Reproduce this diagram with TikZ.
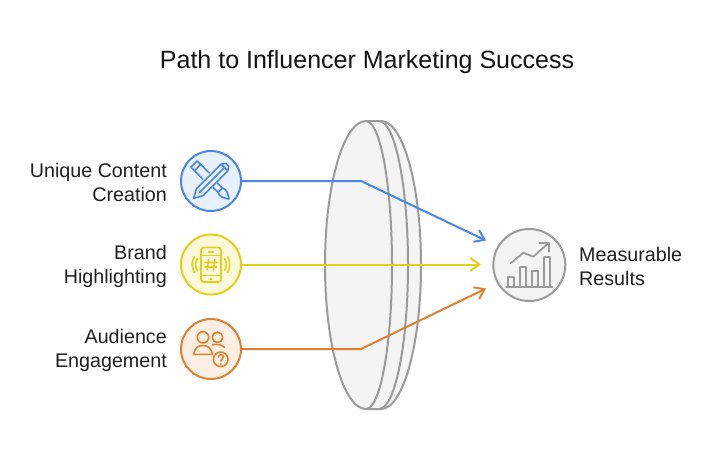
\documentclass[tikz,border=0pt]{standalone}
\usepackage{fontspec}
\setmainfont{Liberation Sans}
\usetikzlibrary{arrows.meta}
\definecolor{cblue}{HTML}{4A86E8}
\definecolor{fblue}{HTML}{E9F1FE}
\definecolor{cyel}{HTML}{E5CE1B}
\definecolor{fyel}{HTML}{FFF9DC}
\definecolor{cora}{HTML}{E0812F}
\definecolor{fora}{HTML}{FDEFE3}
\definecolor{cgry}{HTML}{9B9B9B}
\definecolor{fgry}{HTML}{F4F4F4}
\tikzset{
 badge/.style={circle,draw=#1,line width=2pt,minimum size=60pt,inner sep=0pt},
 lensline/.style={draw=cgry,line width=2pt,line join=round},
 label/.style={font=\fontsize{19.7}{24}\selectfont,align=right,anchor=east,inner sep=0pt,text=black!88},
 rlabel/.style={font=\fontsize{19.7}{24}\selectfont,align=left,anchor=west,inner sep=0pt,text=black!88},
 conn/.style={line width=2pt,draw=#1,line join=miter},
 tip/.style={-{Straight Barb[length=9pt,width=13pt,line width=2pt]}},
 ico/.style={draw=#1,line width=1.6pt,line join=round,line cap=round},
}
\begin{document}
\begin{tikzpicture}[x=1pt,y=-1pt]
\useasboundingbox (0,0) rectangle (722,458);
% lens
\path[fill=fgry] (366,121) .. controls (343.4,121) and (325,185.5) .. (325,265) .. controls (325,344.5) and (343.4,409) .. (366,409) -- (381,409) .. controls (403.1,409) and (421,344.5) .. (421,265) .. controls (421,185.5) and (403.1,121) .. (381,121) -- cycle;
\draw[lensline] (366,121) .. controls (343.4,121) and (325,185.5) .. (325,265) .. controls (325,344.5) and (343.4,409) .. (366,409);
\draw[lensline] (366,121) .. controls (380.4,121) and (392,185.5) .. (392,265) .. controls (392,344.5) and (380.4,409) .. (366,409);
\draw[lensline] (379,121) .. controls (395,121) and (408,185.5) .. (408,265) .. controls (408,344.5) and (395,409) .. (379,409);
\draw[lensline] (366,121) -- (381,121) .. controls (403.1,121) and (421,185.5) .. (421,265) .. controls (421,344.5) and (403.1,409) .. (381,409) -- (366,409);
% title
\node[font=\fontsize{25}{28}\selectfont,text=black!92] (title) at (367,62) {Path to Influencer Marketing Success};
% badges
\node[badge=cblue,fill=fblue] (a1) at (211,181) {};
\node[badge=cyel,fill=fyel] (a2) at (211,264.5) {};
\node[badge=cora,fill=fora] (a3) at (211,349) {};
\node[badge=cgry,fill=fgry,minimum size=72pt] (res) at (529.3,265) {};
% labels
\node[label] (l1) at (167,182) {Unique Content\\Creation};
\node[label] (l2) at (167,266.5) {Brand\\Highlighting};
\node[label] (l3) at (167,350.5) {Audience\\Engagement};
\node[rlabel] (l4) at (579,266) {Measurable\\Results};
% connectors
\coordinate (b1) at (361,181);
\coordinate (b3) at (361,349);
\coordinate (t1) at (486,240.5);
\coordinate (t2) at (481,264.5);
\coordinate (t3) at (486,288.5);
\draw[conn=cblue,tip] (a1.east) -- (b1) -- (t1);
\draw[conn=cyel,tip] (a2.east) -- (t2);
\draw[conn=cora,tip] (a3.east) -- (b3) -- (t3);
% icon 1: pencil and brush
\begin{scope}[shift={(211,181)},rotate=-45]
 \draw[ico=cblue] (-7,-4.5) -- (-24,-4.5) -- (-24,4.5) -- (-7,4.5) (-19,-4.5) -- (-19,4.5);
 \draw[ico=cblue] (6,-3) -- (13,-3) (6,3) -- (13,3) (13,-3.5) -- (13,3.5);
 \draw[ico=cblue] (13,-3) .. controls (17,-5.5) and (21,-3) .. (25.5,0) .. controls (21,3) and (17,5.5) .. (13,3);
\end{scope}
\begin{scope}[shift={(211,181)},rotate=45]
 \draw[ico=cblue,fill=fblue] (-24.5,0) -- (-16,-4.7) -- (19,-4.7) -- (23,-2) -- (23,2) -- (19,4.7) -- (-16,4.7) -- cycle;
 \draw[ico=cblue] (-16,0) -- (19,0) (19,-4.7) -- (19,4.7);
\end{scope}
% icon 2: phone
\draw[ico=cyel,rounded corners=2.5pt] (201,247.5) rectangle (221,282);
\draw[ico=cyel] (201,255.5) -- (221,255.5) (201,275.5) -- (221,275.5) (208.5,251.7) -- (213.5,251.7);
\fill[cyel] (211,279) circle (1.3pt);
\draw[ico=cyel] (208.6,259.5) -- (207,270) (215,259.5) -- (213.4,270) (205,262.5) -- (217,262.5) (204.8,267) -- (216.8,267);
\draw[ico=cyel] (197.5,258.5) .. controls (195,262) and (195,267) .. (197.5,270.5);
\draw[ico=cyel] (194.5,256.5) .. controls (191.5,261) and (191.5,268) .. (194.5,272.5);
\draw[ico=cyel] (224.5,258.5) .. controls (227,262) and (227,267) .. (224.5,270.5);
\draw[ico=cyel] (227.5,256.5) .. controls (230.5,261) and (230.5,268) .. (227.5,272.5);
% icon 3: people
\draw[ico=cora] (203,337.3) circle (5.7pt);
\draw[ico=cora] (217.5,337.3) circle (5.2pt);
\draw[ico=cora] (193.5,354.3) .. controls (195,348) and (198,345.5) .. (203,345.5) .. controls (208,345.5) and (211,348) .. (212.7,354.3) -- cycle;
\draw[ico=cora] (212.5,344.8) .. controls (217,343.5) and (223,345) .. (224.5,347.5);
\draw[ico=cora,fill=fora] (220.7,359.3) circle (7.3pt);
\draw[ico=cora] (218.3,357.2) .. controls (218.6,354) and (223.4,354) .. (223.3,357.2) .. controls (223.2,359) and (220.8,359) .. (220.8,361);
\fill[cora] (220.8,363.8) circle (1.1pt);
% icon 4: chart
\draw[ico=cgry,line width=1.8pt] (506,286.7) -- (552.5,286.7);
\draw[ico=cgry,line width=1.8pt,line cap=butt] (508,286.7) -- (508,276.7) -- (514,276.7) -- (514,286.7);
\draw[ico=cgry,line width=1.8pt,line cap=butt] (520,286.7) -- (520,266.7) -- (526,266.7) -- (526,286.7);
\draw[ico=cgry,line width=1.8pt,line cap=butt] (532,286.7) -- (532,270.7) -- (538,270.7) -- (538,286.7);
\draw[ico=cgry,line width=1.8pt,line cap=butt] (544,286.7) -- (544,256.7) -- (550.3,256.7) -- (550.3,286.7);
\draw[ico=cgry,line width=1.8pt] (510.7,263.3) -- (523.3,252.7) -- (533.3,256.7) -- (548.5,243);
\draw[ico=cgry,line width=1.8pt] (539.3,242.7) -- (548.7,242.7) -- (548.7,251.7);
\end{tikzpicture}
\end{document}
